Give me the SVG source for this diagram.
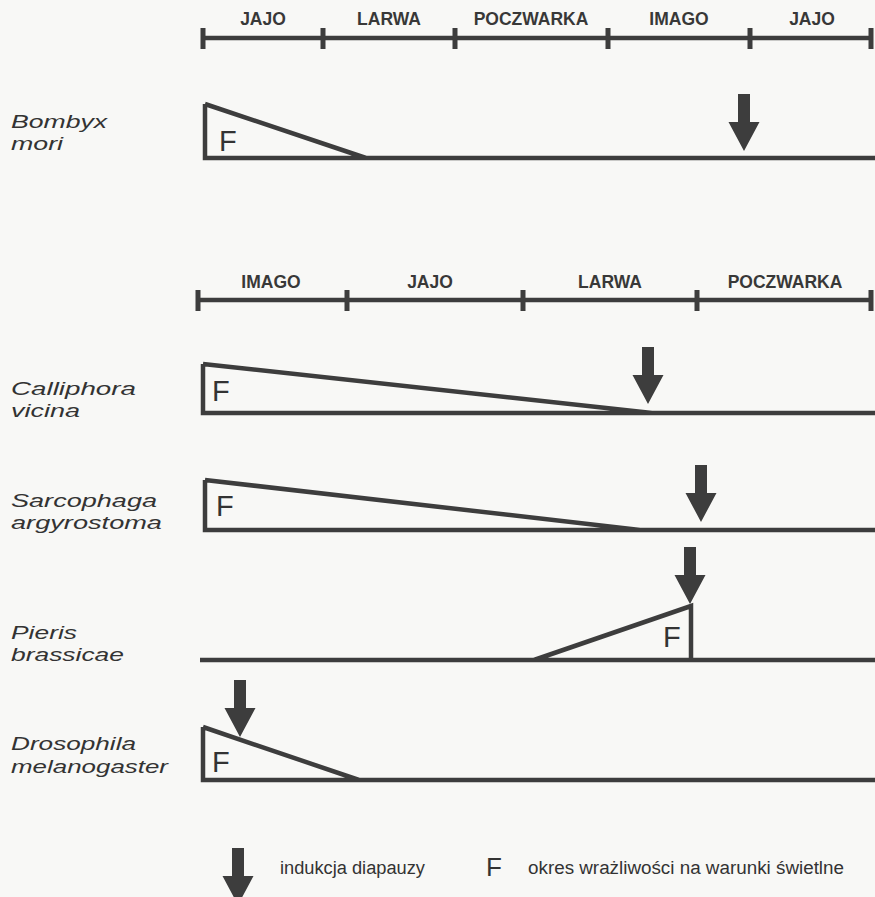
<svg xmlns="http://www.w3.org/2000/svg" width="875" height="897" viewBox="0 0 875 897">
<defs>
<style>
.ln{stroke:#3d3d3d;stroke-width:4.5;fill:none;stroke-linejoin:miter}
.tk{stroke:#3d3d3d;stroke-width:5}
.st{font-family:"Liberation Sans",Arial,sans-serif;font-weight:bold;font-size:17.5px;fill:#383838;text-anchor:middle}
.sp{font-family:"Liberation Sans",Arial,sans-serif;font-style:italic;font-size:19px;fill:#333}
.f{font-family:"Liberation Sans",Arial,sans-serif;font-size:29px;fill:#333}
.lg{font-family:"Liberation Sans",Arial,sans-serif;font-size:18px;fill:#333}
.ar{fill:#3d3d3d}
</style>
<path id="arrow" class="ar" d="M-6,0 H6 V28 H15.5 L0,57 L-15.5,28 H-6 Z"/>
</defs>
<rect width="875" height="897" fill="#f8f8f6"/>

<g id="timeline1">
<line class="ln" x1="203" y1="38" x2="873" y2="38"/>
<line class="tk" x1="203" y1="28" x2="203" y2="49"/>
<line class="tk" x1="323" y1="28" x2="323" y2="49"/>
<line class="tk" x1="455" y1="28" x2="455" y2="49"/>
<line class="tk" x1="608" y1="28" x2="608" y2="49"/>
<line class="tk" x1="750" y1="28" x2="750" y2="49"/>
<line class="tk" x1="871" y1="28" x2="871" y2="49"/>
<text class="st" x="263" y="25">JAJO</text>
<text class="st" x="389" y="25">LARWA</text>
<text class="st" x="531" y="25">POCZWARKA</text>
<text class="st" x="679" y="25">IMAGO</text>
<text class="st" x="812" y="25">JAJO</text>
</g>

<g id="bombyx">
<text class="sp" x="11" y="128" textLength="96" lengthAdjust="spacingAndGlyphs">Bombyx</text>
<text class="sp" x="11" y="150" textLength="52" lengthAdjust="spacingAndGlyphs">mori</text>
<path class="ln" d="M205,104 L205,158 L875,158 M205,104 L366,158"/>
<text class="f" x="219" y="151">F</text>
<use href="#arrow" x="744" y="94"/>
</g>

<g id="timeline2">
<line class="ln" x1="198" y1="300" x2="873" y2="300"/>
<line class="tk" x1="198" y1="290" x2="198" y2="311"/>
<line class="tk" x1="347" y1="290" x2="347" y2="311"/>
<line class="tk" x1="523" y1="290" x2="523" y2="311"/>
<line class="tk" x1="697" y1="290" x2="697" y2="311"/>
<line class="tk" x1="871" y1="290" x2="871" y2="311"/>
<text class="st" x="271" y="288">IMAGO</text>
<text class="st" x="430" y="288">JAJO</text>
<text class="st" x="610" y="288">LARWA</text>
<text class="st" x="785" y="288">POCZWARKA</text>
</g>

<g id="calliphora">
<text class="sp" x="11" y="395" textLength="125" lengthAdjust="spacingAndGlyphs">Calliphora</text>
<text class="sp" x="11" y="417" textLength="69" lengthAdjust="spacingAndGlyphs">vicina</text>
<path class="ln" d="M203,364 L203,413 L875,413 M203,364 L652,413"/>
<text class="f" x="212" y="401">F</text>
<use href="#arrow" x="648" y="347"/>
</g>

<g id="sarcophaga">
<text class="sp" x="11" y="507" textLength="146" lengthAdjust="spacingAndGlyphs">Sarcophaga</text>
<text class="sp" x="11" y="529" textLength="151" lengthAdjust="spacingAndGlyphs">argyrostoma</text>
<path class="ln" d="M205,480 L205,530 L875,530 M205,480 L640,530"/>
<text class="f" x="216" y="516">F</text>
<use href="#arrow" x="701" y="465"/>
</g>

<g id="pieris">
<text class="sp" x="11" y="639" textLength="66" lengthAdjust="spacingAndGlyphs">Pieris</text>
<text class="sp" x="11" y="661" textLength="113" lengthAdjust="spacingAndGlyphs">brassicae</text>
<path class="ln" d="M200,660 L875,660 M534,660 L691,606 L691,660"/>
<text class="f" x="663" y="647">F</text>
<use href="#arrow" x="690" y="547"/>
</g>

<g id="drosophila">
<text class="sp" x="11" y="750" textLength="125" lengthAdjust="spacingAndGlyphs">Drosophila</text>
<text class="sp" x="11" y="773" textLength="157" lengthAdjust="spacingAndGlyphs">melanogaster</text>
<path class="ln" d="M203,727 L203,780 L875,780 M203,727 L359,780"/>
<text class="f" x="212" y="772">F</text>
<use href="#arrow" x="240" y="680"/>
</g>

<g id="legend">
<use href="#arrow" x="238" y="848"/>
<text class="lg" x="280" y="874" textLength="145" lengthAdjust="spacingAndGlyphs">indukcja diapauzy</text>
<text class="f" x="486" y="876" style="font-size:26px;font-weight:300">F</text>
<text class="lg" x="528" y="874" textLength="316" lengthAdjust="spacingAndGlyphs">okres wrażliwości na warunki świetlne</text>
</g>
</svg>
